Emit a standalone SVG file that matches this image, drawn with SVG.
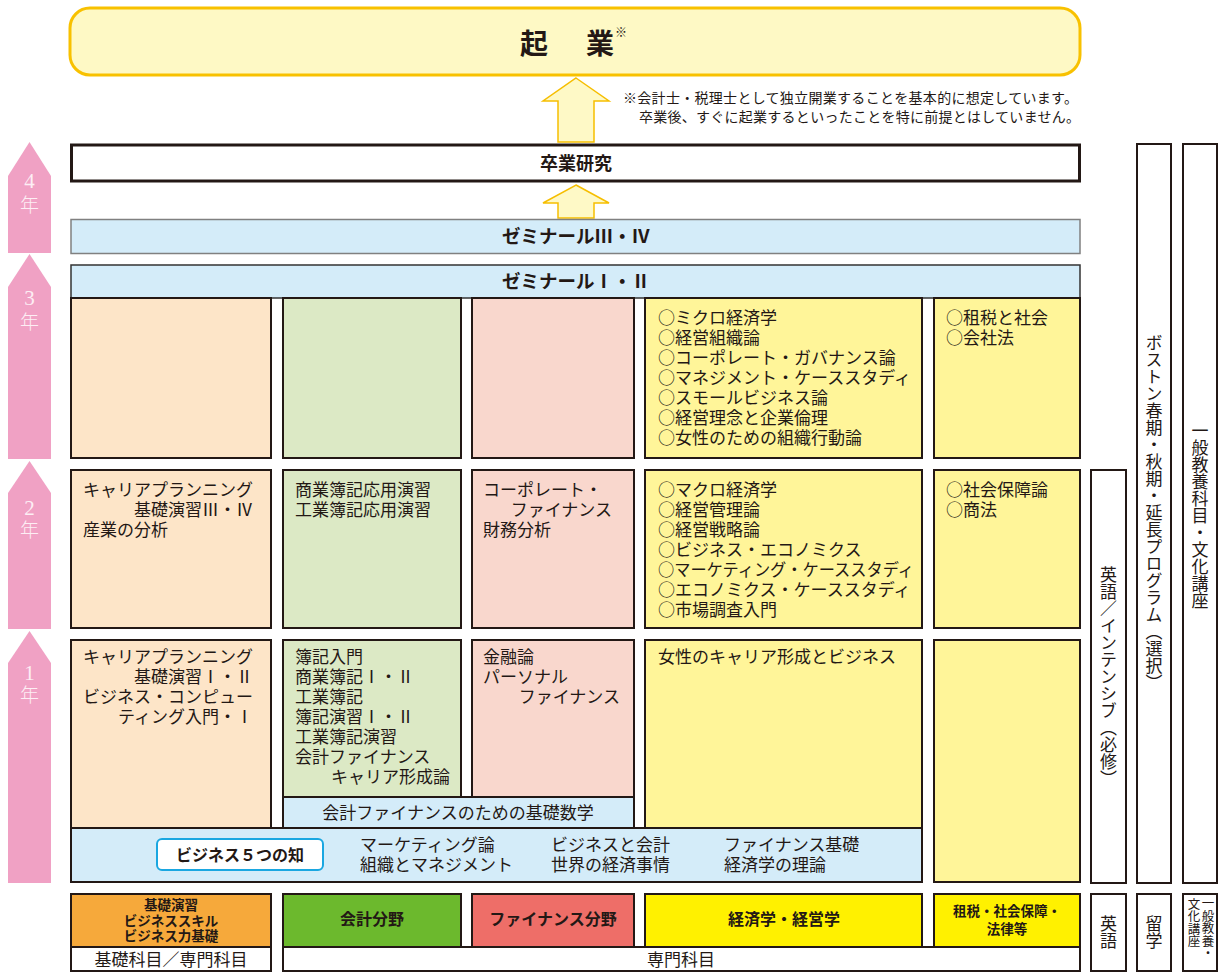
<svg xmlns="http://www.w3.org/2000/svg" width="1221" height="974" viewBox="0 0 1221 974">
<defs>
<style>
.t{font-family:"Noto Sans CJK JP","Noto Sans",sans-serif;font-size:17px;fill:#231815;dominant-baseline:central}
.b{font-weight:bold}
.c{text-anchor:middle}
.e{text-anchor:end}
.s{text-anchor:start}
.v{writing-mode:tb;text-anchor:middle}
.bx{stroke:#231815;stroke-width:2}
.peach{fill:#FDE5C8}
.green{fill:#DCE9C5}
.pink{fill:#F9D7CD}
.yel{fill:#FFF599}
.blue{fill:#D4ECF9}
.wh{fill:#FFFFFF}
.yr{fill:#F0A1C4}
.yl{font-family:"Liberation Serif","Noto Sans CJK JP",serif;font-size:21px;fill:#FDEEF4;text-anchor:middle;dominant-baseline:central}
.nen{font-family:"Noto Sans CJK JP",sans-serif;font-weight:300;font-size:19px}
.up{fill:#FEF9C6;stroke:#F6BE00;stroke-width:1.5}
.note{font-size:14px}
.sm{font-size:13.5px}
</style>
</defs>

<g id="kigyo">
<rect x="70" y="8" width="1010" height="67" rx="20" fill="#FEF9C5" stroke="#F8C100" stroke-width="3"/>
<text class="t b s" style="font-size:28px"><tspan x="520" y="42">起</tspan><tspan x="586" y="42">業</tspan><tspan x="615" y="31" style="font-size:12px;font-weight:normal">※</tspan></text>
</g>
<g id="note">
<text class="t note"><tspan x="623" y="97" textLength="455" lengthAdjust="spacing">※会計士・税理士として独立開業することを基本的に想定しています。</tspan><tspan x="639" y="116" textLength="441" lengthAdjust="spacing">卒業後、すぐに起業するといったことを特に前提とはしていません。</tspan></text>
</g>

<g id="connectors">
<polygon class="up" points="576,78 609,101 594,101 594,142 558,142 558,101 543,101"/>
<polygon class="up" points="576,185 609,203 594,203 594,218 558,218 558,203 543,203"/>
</g>

<g id="years">
<polygon class="yr" points="8,176 29.5,142 51,176 51,253 8,253"/>
<text class="yl"><tspan x="29.5" y="181">4</tspan><tspan class="nen" x="29.5" y="203">年</tspan></text>
<polygon class="yr" points="8,287 29.5,254 51,287 51,459 8,459"/>
<text class="yl"><tspan x="29.5" y="298">3</tspan><tspan class="nen" x="29.5" y="320">年</tspan></text>
<polygon class="yr" points="8,493 29.5,461 51,493 51,629 8,629"/>
<text class="yl"><tspan x="29.5" y="508">2</tspan><tspan class="nen" x="29.5" y="528">年</tspan></text>
<polygon class="yr" points="8,663 29.5,631 51,663 51,883 8,883"/>
<text class="yl"><tspan x="29.5" y="673">1</tspan><tspan class="nen" x="29.5" y="693">年</tspan></text>
</g>

<g id="sotsuken">
<rect x="71.5" y="145" width="1008" height="36" fill="#FFFFFF" stroke="#231815" stroke-width="3"/>
<text class="t b c" x="576" y="162" style="font-size:18px">卒業研究</text>
</g>
<g id="seminar34">
<rect class="blue" x="71" y="219.5" width="1009" height="34" stroke="#808080" stroke-width="1.5"/>
<text class="t b c" x="576" y="235" style="font-size:18.5px">ゼミナールⅢ・Ⅳ</text>
</g>
<g id="seminar12">
<rect class="blue" x="71" y="265" width="1009" height="33" stroke="#333" stroke-width="1.5"/>
<text class="t b c" x="576" y="280" style="font-size:18.5px">ゼミナールⅠ・Ⅱ</text>
</g>

<g id="y3">
<rect class="bx peach" x="71" y="298" width="200" height="160"/>
<rect class="bx green" x="283" y="298" width="178" height="160"/>
<rect class="bx pink" x="472" y="298" width="162" height="160"/>
<rect class="bx yel" x="645" y="298" width="277" height="160"/>
<text class="t"><tspan x="658" y="316">○ミクロ経済学</tspan><tspan x="658" dy="20">○経営組織論</tspan><tspan x="658" dy="20">○コーポレート・ガバナンス論</tspan><tspan x="658" dy="20">○マネジメント・ケーススタディ</tspan><tspan x="658" dy="20">○スモールビジネス論</tspan><tspan x="658" dy="20">○経営理念と企業倫理</tspan><tspan x="658" dy="20">○女性のための組織行動論</tspan></text>
<rect class="bx yel" x="934" y="298" width="146" height="160"/>
<text class="t"><tspan x="946" y="316">○租税と社会</tspan><tspan x="946" dy="20">○会社法</tspan></text>
</g>

<g id="y2">
<rect class="bx peach" x="71" y="470" width="200" height="158"/>
<text class="t"><tspan class="s" x="83" y="488">キャリアプランニング</tspan><tspan class="e" x="253" dy="20">基礎演習Ⅲ・Ⅳ</tspan><tspan class="s" x="83" dy="20">産業の分析</tspan></text>
<rect class="bx green" x="283" y="470" width="178" height="158"/>
<text class="t"><tspan x="295" y="488">商業簿記応用演習</tspan><tspan x="295" dy="20">工業簿記応用演習</tspan></text>
<rect class="bx pink" x="472" y="470" width="162" height="158"/>
<text class="t"><tspan class="s" x="483" y="488">コーポレート・</tspan><tspan class="e" x="612" dy="20">ファイナンス</tspan><tspan class="s" x="483" dy="20">財務分析</tspan></text>
<rect class="bx yel" x="645" y="470" width="277" height="158"/>
<text class="t"><tspan x="658" y="488">○マクロ経済学</tspan><tspan x="658" dy="20">○経営管理論</tspan><tspan x="658" dy="20">○経営戦略論</tspan><tspan x="658" dy="20">○ビジネス・エコノミクス</tspan><tspan x="658" dy="20" textLength="256" lengthAdjust="spacingAndGlyphs">○マーケティング・ケーススタディ</tspan><tspan x="658" dy="20">○エコノミクス・ケーススタディ</tspan><tspan x="658" dy="20">○市場調査入門</tspan></text>
<rect class="bx yel" x="934" y="470" width="146" height="158"/>
<text class="t"><tspan x="946" y="488">○社会保障論</tspan><tspan x="946" dy="20">○商法</tspan></text>
</g>

<g id="y1">
<rect class="bx peach" x="71" y="640" width="200" height="188"/>
<text class="t"><tspan class="s" x="83" y="655">キャリアプランニング</tspan><tspan class="e" x="253" dy="20">基礎演習Ⅰ・Ⅱ</tspan><tspan class="s" x="83" dy="20">ビジネス・コンピュー</tspan><tspan class="e" x="253" dy="20">ティング入門・Ⅰ</tspan></text>
<rect class="bx green" x="283" y="640" width="178" height="157"/>
<text class="t"><tspan class="s" x="295" y="655">簿記入門</tspan><tspan class="s" x="295" dy="20">商業簿記Ⅰ・Ⅱ</tspan><tspan class="s" x="295" dy="20">工業簿記</tspan><tspan class="s" x="295" dy="20">簿記演習Ⅰ・Ⅱ</tspan><tspan class="s" x="295" dy="20">工業簿記演習</tspan><tspan class="s" x="295" dy="20">会計ファイナンス</tspan><tspan class="e" x="450" dy="20">キャリア形成論</tspan></text>
<rect class="bx pink" x="472" y="640" width="162" height="157"/>
<text class="t"><tspan class="s" x="483" y="655">金融論</tspan><tspan class="s" x="483" dy="20">パーソナル</tspan><tspan class="e" x="620" dy="20">ファイナンス</tspan></text>
<rect class="bx yel" x="645" y="640" width="277" height="188"/>
<text class="t" x="658" y="655">女性のキャリア形成とビジネス</text>
<rect class="bx yel" x="934" y="640" width="146" height="242"/>
</g>
<g id="math">
<rect class="bx blue" x="283" y="797" width="351" height="31"/>
<text class="t c" x="458" y="811">会計ファイナンスのための基礎数学</text>
</g>
<g id="biz5">
<rect class="bx blue" x="71" y="828" width="851" height="54"/>
<rect x="157" y="839" width="166" height="31" rx="5" fill="#FFFFFF" stroke="#1AA7E1" stroke-width="2"/>
<text class="t b c" x="240" y="854" style="font-size:16px">ビジネス５つの知</text>
<text class="t"><tspan x="360" y="843">マーケティング論</tspan><tspan x="360" dy="20">組織とマネジメント</tspan></text>
<text class="t"><tspan x="551" y="843">ビジネスと会計</tspan><tspan x="551" dy="20">世界の経済事情</tspan></text>
<text class="t"><tspan x="724" y="843">ファイナンス基礎</tspan><tspan x="724" dy="20">経済学の理論</tspan></text>
</g>

<g id="eigo-int">
<rect class="bx wh" x="1091" y="470" width="35" height="413"/>
<text class="t v" x="1108.5" y="677">英語／インテンシブ（必修）</text>
</g>
<g id="boston">
<rect class="bx wh" x="1137" y="144" width="34" height="739"/>
<text class="t v" x="1154" y="513">ボストン春期・秋期・延長プログラム（選択）</text>
</g>
<g id="ippan">
<rect class="bx wh" x="1183" y="144" width="34" height="739"/>
<text class="t v" x="1200" y="516">一般教養科目・文化講座</text>
</g>

<g id="bottom">
<rect class="bx" x="71" y="894" width="200" height="53" fill="#F6A93B"/>
<text class="t b c sm"><tspan x="171" y="904">基礎演習</tspan><tspan x="171" dy="15.5">ビジネススキル</tspan><tspan x="171" dy="15.5">ビジネス力基礎</tspan></text>
<rect class="bx" x="283" y="894" width="178" height="53" fill="#6CB92D"/>
<text class="t b c" x="372" y="918" style="font-size:16px">会計分野</text>
<rect class="bx" x="472" y="894" width="162" height="53" fill="#EE6E68"/>
<text class="t b c" x="553" y="918" style="font-size:16px">ファイナンス分野</text>
<rect class="bx" x="645" y="894" width="277" height="53" fill="#FFF100"/>
<text class="t b c" x="784" y="918" style="font-size:16px">経済学・経営学</text>
<rect class="bx" x="934" y="894" width="146" height="53" fill="#FFF100"/>
<text class="t b c sm"><tspan x="1007" y="910">租税・社会保障・</tspan><tspan x="1007" dy="18">法律等</tspan></text>
<rect class="bx wh" x="71" y="947" width="200" height="24"/>
<text class="t c" x="171" y="958">基礎科目／専門科目</text>
<rect class="bx wh" x="283" y="947" width="797" height="24"/>
<text class="t c" x="681" y="958">専門科目</text>
<rect class="bx wh" x="1091" y="894" width="35" height="77"/>
<text class="t v" x="1108.5" y="932">英語</text>
<rect class="bx wh" x="1137" y="894" width="34" height="77"/>
<text class="t v" x="1154" y="932">留学</text>
<rect class="bx wh" x="1183" y="894" width="34" height="77"/>
<text class="t" style="writing-mode:tb;font-size:12.5px"><tspan x="1208" y="897">一般教養・</tspan><tspan x="1194" y="897">文化講座</tspan></text>
</g>
</svg>
